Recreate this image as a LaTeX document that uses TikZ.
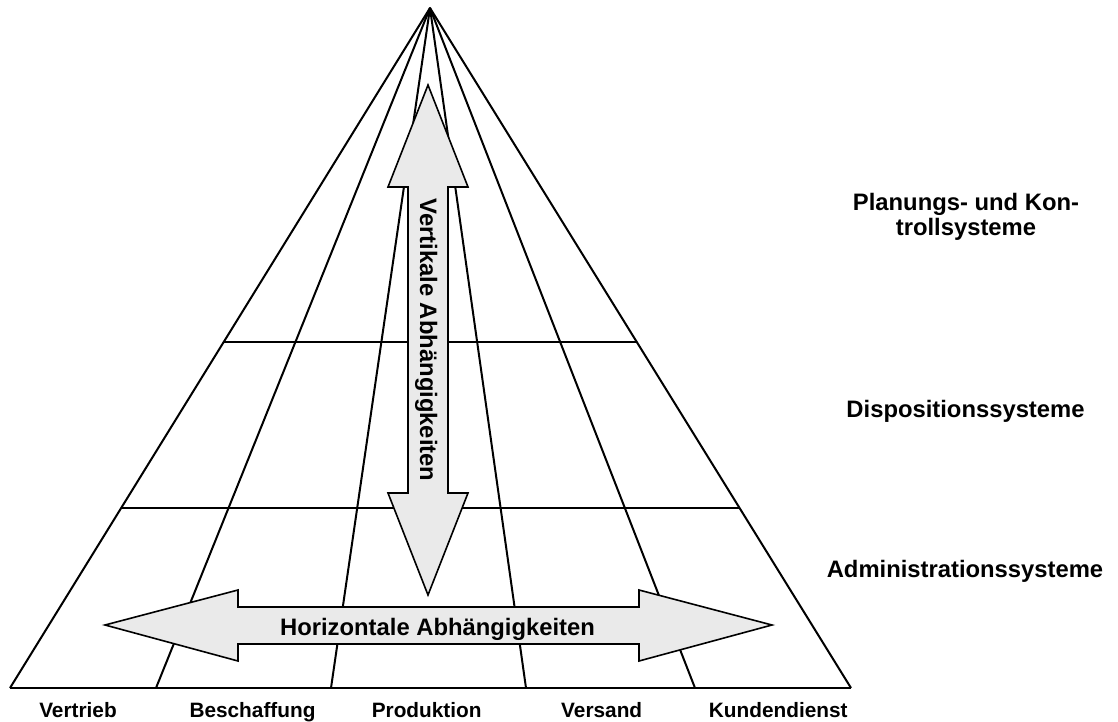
\documentclass[tikz,border=0pt]{standalone}
\usepackage{fontspec}
\setmainfont{Liberation Sans}
\usetikzlibrary{calc}
\begin{document}
\begin{tikzpicture}[x=1pt,y=-1pt,
  pyr/.style={line width=2pt,line join=round},
  grid/.style={line width=1.6pt},
  arr/.style={draw=black,line width=1.6pt,fill=arrowgray,line join=miter},
  lbl/.style={font=\bfseries\fontsize{23.8}{24.8}\selectfont,align=center,inner sep=0pt},
  blbl/.style={font=\bfseries\fontsize{20.8}{22}\selectfont,inner sep=0pt,anchor=base}]
\definecolor{arrowgray}{HTML}{EAEAEA}
\useasboundingbox (0,0) rectangle (1118,722);
% pyramid
\coordinate (apex) at (430,8);
\coordinate (bl) at (10,688);
\coordinate (br) at (851,688);
\coordinate (b1) at (156,688);
\coordinate (b2) at (331,688);
\coordinate (b3) at (526,688);
\coordinate (b4) at (695,688);
\coordinate (h1l) at ($(apex)!0.4912!(bl)$);
\coordinate (h1r) at ($(apex)!0.4912!(br)$);
\coordinate (h2l) at ($(apex)!0.7353!(bl)$);
\coordinate (h2r) at ($(apex)!0.7353!(br)$);
\draw[grid] (h1l) -- (h1r);
\draw[grid] (h2l) -- (h2r);
\draw[pyr] (apex) -- (b1);
\draw[pyr] (apex) -- (b2);
\draw[pyr] (apex) -- (b3);
\draw[pyr] (apex) -- (b4);
\draw[pyr] (bl) -- (apex) -- (br);
\draw[line width=2.4pt] (bl) -- (br);
% vertical double arrow
\draw[arr] (428,85) -- (468,187) -- (448,187) -- (448,493) -- (468,493) -- (428,595)
  -- (388,493) -- (408,493) -- (408,187) -- (388,187) -- cycle;
\node[lbl,rotate=-90,anchor=base] (vt) at (420,340) {Vertikale Abhängigkeiten};
% horizontal double arrow
\draw[arr] (105,625) -- (238,590) -- (238,607) -- (639,607) -- (639,590) -- (772,625)
  -- (639,661) -- (639,644) -- (238,644) -- (238,661) -- cycle;
\node[lbl,anchor=base] (ht) at (437.5,635) {Horizontale Abhängigkeiten};
% right labels
\node[lbl] (pk) at (966,217) {Planungs- und Kon-\\trollsysteme};
\node[lbl,anchor=base] (ds) at (965.5,417) {Dispositionssysteme};
\node[lbl,anchor=base] (as) at (965,577) {Administrationssysteme};
% bottom labels
\node[blbl] (v1) at (78,717) {Vertrieb};
\node[blbl] (v2) at (252.5,717) {Beschaffung};
\node[blbl] (v3) at (426.7,717) {Produktion};
\node[blbl] (v4) at (601.7,717) {Versand};
\node[blbl] (v5) at (778.3,717) {Kundendienst};
\end{tikzpicture}
\end{document}
